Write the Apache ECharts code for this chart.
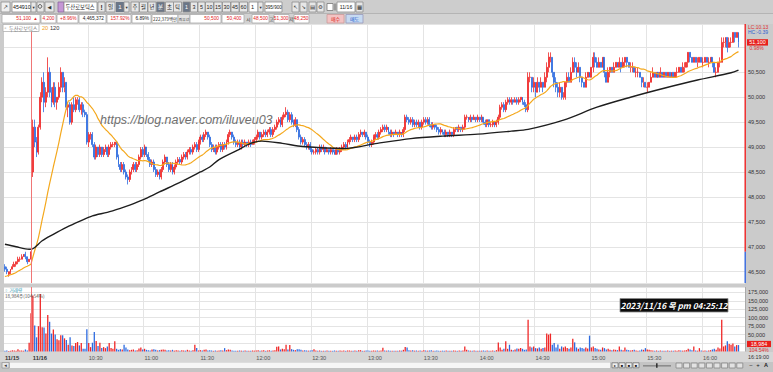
<!DOCTYPE html>
<html><head><meta charset="utf-8">
<script src="https://cdn.jsdelivr.net/npm/echarts@6/dist/echarts.min.js"></script>
<style>html,body{margin:0;padding:0;background:#c9c9c9;overflow:hidden}#c{width:773px;height:372px}</style>
</head><body><div id="c"></div>
<script>
// ---------------- data ----------------
const stockCode = '454910';
const stockName = '두산로보틱스';
const prevClose = 46900;
const lastPrice = 51100;
const lastVolume = 18984;
const day1 = '11/15', day1Start = '15:16';
const day2 = '11/16', day2Start = '10:00';
const futureSlots = 3;
// 11/15 closes before the visible window (used only for the 20-bar average)
const priorCloses = [46300,46250,46300,46350,46350,46300,46300,46350,46400,46350,46350,46400,46400,46450,46500,46500,46550,46550,46550];
// [open, close, low, high]
const candles1115 = [
[46600,46550,46500,46650],[46550,46500,46450,46600],[46450,46500,46400,46500],[46500,46550,46450,46550],[46550,46600,46550,46650],
[46600,46650,46600,46700],[46650,46700,46600,46700],[46700,46750,46650,46800],[46750,46750,46700,46800],[46750,46800,46750,46850],
[46800,46850,46800,46850],[46850,46800,46750,46900],[46800,46700,46650,46800],[46700,46750,46700,46750],[46750,46900,46750,46900]
];
const candles1116 = [
[48500,49400,48400,49550],[49400,49100,49000,49550],[49100,48900,48800,49200],[48900,49400,48850,49450],[49400,50000,49350,50100],[50000,50300,49900,50400],[50300,49900,49700,50500],[49900,50100,49800,50200],[50100,50500,50000,50800],[50500,50100,50000,50600],
[50100,49900,49800,50200],[49900,50200,49850,50300],[50200,49900,49800,50300],[49900,50000,49750,50000],[50000,50200,49950,50300],[50200,50500,50100,50600],[50500,50200,50100,50500],[50200,50300,50100,50400],[50300,49800,49750,50300],[49800,49850,49600,49900],
[49850,49500,49450,49900],[49500,49850,49450,49900],[49850,49750,49700,50000],[49750,49950,49700,50000],[49950,49950,49850,50000],[49950,49750,49700,50000],[49750,49850,49650,49900],[49850,49700,49600,49900],[49700,49650,49600,49750],[49650,49100,49050,49700],
[49100,49250,49000,49300],[49250,49250,49150,49300],[49250,49050,49000,49300],[49050,48800,48750,49100],[48800,49000,48750,49050],[49000,48850,48800,49000],[48850,49000,48800,49050],[49000,48850,48800,49000],[48850,48950,48800,49000],[48950,49000,48900,49050],
[49000,48850,48800,49000],[48850,49000,48800,49050],[49000,49050,48950,49100],[49050,49050,49000,49100],[49050,49100,49000,49100],[49100,48800,48750,49100],[48800,48650,48600,48850],[48650,48550,48500,48700],[48550,48650,48500,48700],[48650,48500,48450,48700],
[48500,48400,48350,48550],[48400,48350,48250,48450],[48350,48500,48300,48550],[48500,48550,48450,48600],[48550,48650,48500,48700],[48650,48550,48500,48700],[48550,48650,48500,48700],[48650,48800,48600,48850],[48800,48950,48750,49000],[48950,48850,48800,49000],
[48850,49000,48800,49050],[49000,48850,48800,49000],[48850,48750,48700,48900],[48750,48650,48600,48800],[48650,48700,48600,48750],[48700,48550,48500,48750],[48550,48450,48400,48600],[48450,48500,48400,48550],[48500,48400,48350,48550],[48400,48550,48350,48600],
[48550,48700,48500,48750],[48700,48800,48650,48850],[48800,48650,48600,48800],[48650,48550,48500,48700],[48550,48650,48500,48700],[48650,48500,48450,48700],[48500,48600,48450,48650],[48600,48700,48550,48750],[48700,48750,48650,48800],[48750,48700,48650,48800],
[48700,48800,48650,48850],[48800,48850,48750,48900],[48850,48800,48750,48900],[48800,48900,48750,48950],[48900,48950,48850,49000],[48950,48900,48850,49000],[48900,49000,48850,49050],[49000,49050,48950,49100],[49050,48950,48900,49100],[48950,49100,48900,49150],
[49100,49200,49050,49250],[49200,49150,49100,49250],[49150,49250,49100,49300],[49250,49300,49200,49350],[49300,49200,49150,49300],[49200,49050,49000,49250],[49050,48950,48900,49100],[48950,49000,48900,49050],[49000,48900,48850,49050],[48900,49000,48850,49050],
[49000,49050,48950,49100],[49050,48950,48900,49100],[48950,49050,48900,49100],[49050,49000,48950,49100],[49000,49100,48950,49150],[49100,49250,49050,49300],[49250,49300,49200,49350],[49300,49200,49150,49300],[49200,49100,49050,49250],[49100,49050,49000,49150],
[49050,49100,49000,49150],[49100,49000,48950,49150],[49000,49100,48950,49150],[49100,49050,49000,49150],[49050,49100,49000,49150],[49100,49050,49000,49100],[49050,49100,49000,49150],[49100,49050,49000,49150],[49050,49100,49050,49150],[49100,49150,49050,49200],
[49150,49200,49100,49250],[49200,49300,49150,49350],[49300,49200,49150,49300],[49200,49250,49150,49300],[49250,49300,49200,49350],[49300,49250,49200,49350],[49250,49300,49200,49350],[49300,49350,49250,49400],[49350,49250,49200,49400],[49250,49350,49200,49400],
[49350,49400,49300,49450],[49400,49500,49350,49550],[49500,49550,49450,49600],[49550,49450,49400,49600],[49450,49600,49400,49650],[49600,49650,49550,49700],[49650,49700,49600,49800],[49700,49550,49500,49750],[49550,49650,49500,49700],[49650,49500,49450,49700],
[49500,49450,49400,49550],[49450,49550,49400,49600],[49550,49350,49300,49550],[49350,49200,49150,49400],[49200,49100,49050,49250],[49100,49150,49050,49200],[49150,49050,49000,49200],[49050,49000,48950,49100],[49000,49050,48950,49100],[49050,48950,48900,49100],
[48950,48900,48850,49000],[48900,48900,48850,48950],[48900,48950,48850,49000],[48950,48900,48850,49000],[48900,49000,48850,49050],[49000,48950,48900,49050],[48950,49000,48900,49050],[49000,48900,48850,49000],[48900,48950,48900,49000],[48950,48900,48850,48950],
[48900,48950,48850,49000],[48950,48900,48850,48950],[48900,48850,48850,48950],[48850,48950,48850,49000],[48950,48900,48850,48950],[48900,48950,48850,49000],[48950,49000,48900,49050],[49000,49050,48950,49100],[49050,49000,48950,49100],[49000,49100,48950,49150],
[49100,49150,49050,49200],[49150,49200,49100,49250],[49200,49150,49100,49200],[49150,49200,49100,49250],[49200,49150,49100,49250],[49150,49250,49100,49300],[49250,49300,49200,49350],[49300,49250,49200,49300],[49250,49300,49200,49350],[49300,49200,49150,49300],
[49200,49100,49050,49250],[49100,49050,49000,49150],[49050,49100,49000,49150],[49100,49200,49050,49250],[49200,49250,49150,49300],[49250,49200,49150,49300],[49200,49300,49150,49350],[49300,49350,49250,49400],[49350,49400,49300,49450],[49400,49350,49300,49450],
[49350,49400,49300,49450],[49400,49300,49250,49400],[49300,49250,49200,49350],[49250,49300,49200,49350],[49300,49250,49200,49300],[49250,49300,49250,49350],[49300,49250,49200,49300],[49250,49300,49200,49350],[49300,49250,49200,49300],[49250,49350,49200,49400],
[49350,49600,49300,49650],[49600,49550,49500,49650],[49550,49500,49450,49600],[49500,49550,49450,49600],[49550,49450,49400,49600],[49450,49500,49400,49550],[49500,49450,49400,49550],[49450,49500,49400,49550],[49500,49400,49350,49500],[49400,49500,49350,49550],
[49500,49550,49450,49600],[49550,49500,49450,49600],[49500,49550,49450,49600],[49550,49450,49400,49600],[49450,49400,49350,49500],[49400,49450,49350,49500],[49450,49400,49350,49450],[49400,49350,49300,49450],[49350,49300,49250,49400],[49300,49350,49250,49400],
[49350,49300,49250,49350],[49300,49250,49200,49350],[49250,49300,49200,49350],[49300,49250,49200,49300],[49250,49300,49200,49350],[49300,49250,49200,49300],[49250,49350,49200,49400],[49350,49400,49300,49400],[49400,49350,49300,49400],[49350,49400,49300,49450],
[49400,49350,49300,49400],[49350,49400,49300,49450],[49400,49600,49350,49650],[49600,49600,49550,49650],[49600,49550,49500,49600],[49550,49600,49500,49650],[49600,49550,49500,49600],[49550,49600,49550,49650],[49600,49550,49500,49600],[49550,49600,49500,49650],
[49600,49550,49500,49600],[49550,49600,49500,49650],[49600,49500,49450,49600],[49500,49450,49400,49550],[49450,49550,49400,49550],[49550,49450,49400,49550],[49450,49450,49400,49500],[49450,49500,49400,49550],[49500,49450,49400,49500],[49450,49500,49400,49550],
[49500,49600,49450,49650],[49600,49800,49550,49850],[49800,49850,49750,49900],[49850,49750,49700,49900],[49750,49900,49700,49950],[49900,49950,49850,50000],[49950,49900,49850,50000],[49900,49950,49850,50000],[49950,49900,49850,49950],[49900,49950,49900,50000],
[49950,49900,49850,50000],[49900,49950,49850,50000],[49950,50000,49900,50000],[50000,49900,49850,50000],[49900,49850,49800,49950],[49850,49750,49700,49900],[49750,50400,49700,50500],[50400,50400,50300,50500],[50400,50200,50100,50400],[50200,50300,50100,50400],
[50300,50100,50000,50300],[50100,50300,50100,50400],[50300,50200,50100,50300],[50200,50300,50200,50400],[50300,50200,50100,50300],[50200,50400,50200,50500],[50400,50600,50300,50700],[50600,50800,50500,50900],[50800,50800,50700,50900],[50800,50500,50400,50800],
[50500,50300,50200,50500],[50300,50200,50100,50400],[50200,50100,50000,50300],[50100,50200,50000,50300],[50200,50000,49950,50200],[50000,50000,49950,50100],[50000,50300,49950,50300],[50300,50400,50200,50500],[50400,50300,50300,50500],[50300,50500,50300,50600],
[50500,50700,50500,50800],[50700,50600,50500,50800],[50600,50500,50400,50700],[50500,50600,50500,50700],[50600,50400,50300,50600],[50400,50300,50200,50400],[50300,50200,50200,50300],[50200,50400,50200,50500],[50400,50500,50400,50500],[50500,50400,50400,50500],
[50400,50600,50400,50600],[50600,50800,50500,50900],[50800,50700,50600,50900],[50700,50600,50600,50800],[50600,50700,50600,50800],[50700,50600,50600,50700],[50600,50800,50600,50800],[50800,50500,50400,50800],[50500,50300,50300,50500],[50300,50500,50300,50600],
[50500,50600,50400,50600],[50600,50500,50500,50600],[50500,50600,50500,50700],[50600,50700,50600,50700],[50700,50600,50600,50700],[50600,50700,50600,50800],[50700,50600,50500,50700],[50600,50700,50600,50800],[50700,50800,50600,50800],[50800,50700,50600,50800],
[50700,50600,50600,50700],[50600,50600,50500,50700],[50600,50600,50500,50700],[50600,50500,50500,50600],[50500,50500,50400,50600],[50500,50500,50400,50600],[50500,50400,50400,50500],[50400,50300,50200,50400],[50300,50300,50200,50400],[50300,50200,50200,50300],
[50200,50200,50100,50300],[50200,50300,50200,50300],[50300,50400,50300,50500],[50400,50500,50400,50600],[50500,50400,50400,50500],[50400,50500,50400,50500],[50500,50400,50400,50500],[50400,50500,50400,50600],[50500,50400,50400,50500],[50400,50500,50400,50500],
[50500,50400,50400,50500],[50400,50500,50400,50500],[50500,50400,50400,50500],[50400,50500,50400,50500],[50500,50400,50400,50500],[50400,50500,50400,50500],[50500,50500,50400,50600],[50500,50600,50500,50600],[50600,50500,50500,50600],[50500,50600,50500,50700],
[50600,50600,50500,50700],[50600,50700,50600,50700],[50700,50900,50600,50900],[50900,50800,50700,50900],[50800,50700,50700,50800],[50700,50800,50700,50800],[50800,50700,50700,50800],[50700,50700,50600,50800],[50700,50800,50700,50800],[50800,50700,50700,50800],
[50700,50700,50600,50800],[50700,50800,50700,50800],[50800,50700,50700,50800],[50700,50700,50600,50800],[50700,50800,50700,50800],[50800,50700,50600,50800],[50700,50500,50500,50700],[50500,50500,50400,50600],[50500,50700,50500,50700],[50700,50700,50600,50800],
[50700,51100,50700,51200],[51100,51100,51000,51200],[51100,51200,51000,51200],[51200,51000,50900,51200],[51000,51100,51000,51200],[51100,51100,51000,51200],[51100,51300,51100,51300],[51300,51200,51100,51300],[51200,51300,51200,51300],[51300,51100,51000,51300]
];
const volumes1115 = [2500,3000,1800,2200,3500,2600,1900,6500,2800,3100,2400,6000,2700,26000,113000];
const volumes1116 = [
166000,77000,42000,75000,170000,72000,71000,53000,108000,88000,
53000,65000,50000,36000,33000,48000,48000,39000,34000,20000,
42000,18000,16000,25000,28000,18000,25000,8000,8000,66000,
25000,13000,26000,58000,31000,16000,26000,10000,13000,10000,
15000,25000,10000,8000,30000,8000,5000,7000,6000,20000,
12000,6000,4000,5000,6000,3000,4000,9000,12000,6000,
8000,5000,4000,3000,6000,7000,5000,3000,4000,5000,
6000,5000,3000,4000,3000,5000,2500,4000,3000,2000,
4000,3000,2500,5000,3000,2000,4000,20000,10000,3000,
4000,3000,5000,6000,3000,4000,3000,2000,3000,2500,
3000,4000,3000,10000,4000,6000,5000,3000,2500,2000,
2000,3000,2500,2000,3000,2000,2500,2000,3000,2500,
3000,4000,2500,3000,3500,2000,3000,4000,2500,3000,
4000,14000,15000,6000,8000,7000,20000,6000,19000,7000,
5000,4000,7000,7000,5000,3000,4000,3000,2500,3000,
4000,7000,3000,2500,3000,2000,2500,2000,3000,2000,
2500,2000,3000,2500,2000,3000,2500,3000,2000,3000,
3000,2500,2000,3000,2000,3500,4000,2000,2500,3000,
3000,2500,2000,3000,2500,3000,2000,3000,11000,3000,
2500,3000,2000,2500,2000,2500,2000,3000,2500,5000,
13000,12000,4000,3000,4000,2500,3000,2000,3000,2500,
4000,3000,2500,3000,4000,2500,2000,3000,2500,2000,
2500,2000,3000,2000,2500,2000,3000,2500,2000,3000,
2500,3000,15000,5000,3000,2500,2000,3000,2000,2500,
2000,2500,3000,2500,3000,2000,2500,3000,2000,4000,
27000,12000,5000,8000,30000,8000,20000,5000,4000,6000,
9000,8000,10000,8000,5000,6000,94000,15000,12000,15000,
10000,9000,12000,8000,10000,12000,53000,50000,53000,20000,
25000,12000,21000,8000,15000,12000,15000,10000,8000,12000,
38000,27000,12000,8000,12000,10000,8000,12000,9000,47000,
12000,15000,10000,8000,6000,5000,12000,10000,6000,8000,
5000,4000,6000,5000,4000,15000,5000,4000,12000,5000,
4000,3000,4000,5000,3000,2500,3000,6000,5000,10000,
6000,5000,4000,3000,2500,3000,2000,3000,2500,2000,
2500,3000,2000,2500,2000,3000,2500,4000,3000,2500,
3000,4000,8000,6000,4000,15000,3000,2500,10000,3000,
2500,3000,2500,3000,4000,6000,8000,5000,12000,9000,
94000,15000,18000,30000,22000,20000,24000,15000,19000,18984
];
// 120-bar average at sample times
const ma120Times = ['11/15 15:16','11/15 15:22','11/15 15:29','11/16 10:00','11/16 10:05','11/16 10:11','11/16 10:18','11/16 10:25','11/16 10:32','11/16 10:40','11/16 10:47','11/16 10:52','11/16 10:59','11/16 11:08','11/16 11:19','11/16 11:30','11/16 11:35','11/16 11:40','11/16 11:50','11/16 11:57','11/16 12:03','11/16 12:14','11/16 12:25','11/16 12:47','11/16 13:05','11/16 13:23','11/16 13:40','11/16 13:59','11/16 14:17','11/16 14:26','11/16 14:45','11/16 15:03','11/16 15:21','11/16 15:39','11/16 15:57','11/16 16:15','11/16 16:19'];
const ma120Values = [47050,47000,46950,46960,47120,47250,47390,47510,47620,47690,47770,47835,47940,48100,48290,48500,48600,48750,48940,49075,49120,49075,49010,48970,49075,49170,49220,49260,49320,49355,49540,49800,50000,50180,50345,50490,50545];
// axis labels hidden behind the current-value boxes in the reference
const hiddenPriceLabels = [51000];
const hiddenVolumeLabels = [25000];

// ---------------- build ----------------
const UP = '#ef2727', DOWN = '#2d6be0';
const FONT = "'Liberation Sans','DejaVu Sans',sans-serif";
const CJK = "'Noto Sans CJK KR','Noto Sans',sans-serif";
function pad(n){return (n<10?'0':'')+n;}
function buildTimes(day, start, count){
  const p = start.split(':').map(Number); const out = [];
  for (let i=0;i<count;i++){ const t=p[0]*60+p[1]+i; out.push(day+' '+pad(Math.floor(t/60))+':'+pad(t%60)); }
  return out;
}
const cats = buildTimes(day1, day1Start, candles1115.length).concat(buildTimes(day2, day2Start, candles1116.length + futureSlots));
const candles = candles1115.concat(candles1116);
const volumes = volumes1115.concat(volumes1116);
const closes = candles.map(r => r[1]);
const allCloses = priorCloses.concat(closes);
const ma20 = closes.map((_, i) => { let s = 0; for (let k = i; k < i + 20; k++) s += allCloses[k]; return Math.round(s / 20); });
const dirs = candles.map((r, i) => r[1] > r[0] ? 1 : r[1] < r[0] ? -1 : (i > 0 && candles[i-1][1] > r[1] ? -1 : 1));
const ma120 = ma120Times.map((t, k) => [cats.indexOf(t), ma120Values[k]]);
const sepIndex = candles1115.length - 1;
function comma(v){return String(Math.round(v)).replace(/\B(?=(\d{3})+(?!\d))/g, ',');}
function isGridCat(i, v){ return v.indexOf(day2) === 0 && (v.slice(-2) === '00' || v.slice(-2) === '30') && v !== day2 + ' ' + day2Start; }
function isLabelCat(i, v){ return i === 0 || v === day2 + ' ' + day2Start || isGridCat(i, v); }

const chart = echarts.init(document.getElementById('c'), null, {renderer: 'svg'});
const split = {show: true, lineStyle: {color: '#e4e4e4', width: 1}};
chart.setOption({
  animation: false,
  backgroundColor: '#cbcbcb',
  grid: [
    {left: 4, right: 28, top: 24, height: 259, show: true, backgroundColor: '#ffffff', borderWidth: 0},
    {left: 4, right: 28, top: 287, height: 64.5, show: true, backgroundColor: '#ffffff', borderWidth: 0}
  ],
  xAxis: [
    {type: 'category', gridIndex: 0, data: cats, boundaryGap: true, axisLine: {show: false}, axisTick: {show: false}, axisLabel: {show: false},
     splitLine: Object.assign({interval: isGridCat}, split)},
    {type: 'category', gridIndex: 1, data: cats, boundaryGap: true, axisLine: {show: false}, axisTick: {show: false},
     splitLine: Object.assign({interval: isGridCat}, split),
     axisLabel: {show: true, interval: isLabelCat, align: 'left', margin: 3.5, fontSize: 5.6, color: '#555', fontFamily: FONT,
       formatter: function(v, i){ if (i === 0) return '{d|' + day1 + '}'; if (v === day2 + ' ' + day2Start) return '{d|' + day2 + '}'; return v.slice(6); },
       rich: {d: {fontSize: 5.8, fontWeight: 'bold', color: '#333', fontFamily: FONT}}}}
  ],
  yAxis: [
    {type: 'value', gridIndex: 0, position: 'right', min: 46273, max: 51469, splitNumber: 10, axisLine: {show: false}, axisTick: {show: false},
     splitLine: split, axisLabel: {fontSize: 5.6, color: '#333', margin: 3, fontFamily: FONT, showMinLabel: false, showMaxLabel: false,
       formatter: v => hiddenPriceLabels.indexOf(v) >= 0 ? '' : comma(v)}},
    {type: 'value', gridIndex: 1, position: 'right', min: 0, max: 191000, interval: 25000, axisLine: {show: false}, axisTick: {show: false},
     splitLine: split, axisLabel: {fontSize: 5.6, color: '#333', margin: 3, fontFamily: FONT, showMinLabel: false, showMaxLabel: false,
       formatter: v => hiddenVolumeLabels.indexOf(v) >= 0 ? '' : comma(v)}}
  ],
  series: [
    {type: 'candlestick', xAxisIndex: 0, yAxisIndex: 0, data: candles, barWidth: 1.4,
     itemStyle: {color: UP, color0: DOWN, borderColor: UP, borderColor0: DOWN, borderWidth: 0.8},
     markLine: {silent: true, symbol: ['none', 'none'], label: {show: false}, lineStyle: {color: '#f07676', width: 1, type: 'solid'}, data: [{xAxis: sepIndex}]}},
    {type: 'line', name: '20', xAxisIndex: 0, yAxisIndex: 0, data: ma20, showSymbol: false, symbol: 'none', lineStyle: {color: '#f4a81d', width: 1.2}, z: 3},
    {type: 'line', name: '120', xAxisIndex: 0, yAxisIndex: 0, data: ma120, smooth: 0.3, showSymbol: false, symbol: 'none', lineStyle: {color: '#1e1e1e', width: 1.4}, z: 3},
    {type: 'bar', xAxisIndex: 1, yAxisIndex: 1, barWidth: 1.3,
     data: volumes.map((v, i) => ({value: v, itemStyle: {color: dirs[i] > 0 ? UP : DOWN}})),
     markLine: {silent: true, symbol: ['none', 'none'], label: {show: false}, lineStyle: {color: '#f07676', width: 1, type: 'solid'}, data: [{xAxis: sepIndex}]}}
  ]
});

// ---------------- decorations ----------------
const G = [];
function R(x, y, w, h, fill, stroke, z){ G.push({type: 'rect', silent: true, z: z === undefined ? 100 : z, shape: {x: x, y: y, width: w, height: h}, style: {fill: fill, stroke: stroke || null, lineWidth: stroke ? 0.8 : 0}}); }
function T(x, y, text, color, size, o){ o = o || {}; const f = (o.style || 'normal') + ' ' + (o.weight || 'normal') + ' ' + size + 'px ' + (o.family || FONT);
  G.push({type: 'text', silent: true, z: o.z || 101, x: x, y: y, style: {text: text, fill: color, font: f, textAlign: o.align || 'left', align: o.align || 'left', textVerticalAlign: 'middle', verticalAlign: 'middle'}}); }
// toolbar row 1
R(0, 0, 773, 13, '#cdcdcd', null, 90); R(0, 13, 773, 1, '#b4b4b4', null, 90); R(0, 14, 773, 10, '#d2d2d2', null, 90);
const BTN = '#e7e7e7', BD = '#8e8e8e', SEL = '#6b7687';
R(1, 2, 9, 10, '#efefef', BD); T(5.5, 7, '↗', '#333', 6, {align: 'center'});
R(12, 2, 19, 10, '#ffffff', BD); T(13, 7.2, stockCode, '#111', 5.3);
R(31, 2, 5, 10, BTN, BD); T(33.6, 7, '▾', '#333', 4.5, {align: 'center'});
R(37, 2, 7, 10, BTN, BD); G.push({type: 'circle', z: 101, shape: {cx: 40, cy: 6.4, r: 1.8}, style: {fill: 'none', stroke: '#333', lineWidth: 0.8}});
R(45, 2, 9, 10, BTN, BD); T(49.5, 7, '◀', '#333', 5, {align: 'center'});
R(58, 2, 6, 10, '#c597d6', '#8a66a0'); 
R(64, 2, 33, 10, '#ffffff', BD); T(65.5, 7.3, stockName, '#222', 5.3, {family: CJK});
R(98, 2, 7, 10, BTN, BD); T(101.5, 7, '!', '#222', 6.5, {align: 'center', weight: 'bold'});
R(106, 2, 9, 10, BTN, BD); T(110.5, 7.2, '일', '#222', 5.6, {align: 'center', family: CJK});
R(116, 2, 8, 10, SEL); T(120, 7, '1', '#fff', 6, {align: 'center'});
R(124, 2, 5, 10, BTN, BD); T(126.5, 7, '▾', '#333', 4.5, {align: 'center'});
[['주', 131, 0], ['월', 139.5, 0], ['년', 148, 0], ['분', 156.5, 1], ['초', 165.5, 0], ['틱', 173.5, 0]].forEach(b => {
  R(b[1], 2, 8, 10, b[2] ? SEL : BTN, BD); T(b[1] + 4, 7.2, b[0], b[2] ? '#fff' : '#222', 5.4, {align: 'center', family: CJK}); });
[['1', 183, 7, 1], ['3', 190.5, 7, 0], ['5', 198, 7, 0], ['10', 205.5, 8, 0], ['15', 214, 8, 0], ['30', 222.5, 8, 0], ['45', 231, 8, 0], ['60', 239.5, 8, 0]].forEach(b => {
  R(b[1], 2, b[2], 10, b[3] ? SEL : BTN, BD); T(b[1] + b[2] / 2, 7, b[0], b[3] ? '#fff' : '#222', 5.4, {align: 'center'}); });
R(249, 2, 9, 10, '#ffffff', BD); T(251, 7, '1', '#222', 5.6);
R(258, 2, 5, 10, BTN, BD); T(260.5, 7, '▾', '#333', 4.5, {align: 'center'});
R(265, 2, 17, 10, '#ffffff', BD); T(273.5, 7, '395/900', '#222', 4.6, {align: 'center'});
[292, 300, 309, 317].forEach((x, k) => { R(x, 2, 7, 10, BTN, BD); T(x + 3.5, 7, ['↖', '↘', '▤', '⚙'][k], '#333', 5.5, {align: 'center'}); });
R(327, 3.5, 6, 7, '#ffffff', '#777'); R(334, 3.5, 2.5, 7, '#9a9a9a');
R(337, 2, 18, 10, '#ffffff', BD); T(346, 7, day2, '#222', 5.2, {align: 'center'});
R(356, 2, 7, 10, BTN, BD); T(359.5, 7, '▦', '#333', 5.5, {align: 'center'});
// toolbar row 2
const RED = '#e3201b', CB = '#a9a9a9', NF = 4.8;
R(2, 14.5, 38, 8.5, '#fff', CB); T(31, 18.8, comma(lastPrice), RED, NF, {align: 'right'}); T(35.5, 18.8, '▲', RED, 4.5, {align: 'center'});
R(41, 14.5, 15, 8.5, '#fff', CB); T(54.5, 18.8, comma(lastPrice - prevClose), RED, NF, {align: 'right'});
R(57, 14.5, 21, 8.5, '#fff', CB); T(76.5, 18.8, '+8.96%', RED, NF, {align: 'right'});
R(79, 14.5, 27, 8.5, '#fff', CB); T(104, 18.8, '4,465,372', '#222', NF, {align: 'right'});
R(107, 14.5, 24, 8.5, '#fff', CB); T(129.5, 18.8, '157.92%', RED, NF, {align: 'right'});
R(132, 14.5, 19, 8.5, '#fff', CB); T(149, 18.8, '6.89%', '#222', NF, {align: 'right'});
R(152, 14.5, 26, 8.5, '#fff', CB); T(177, 18.8, '222,379백만', '#222', 4.4, {align: 'right', family: CJK});
R(178, 14.5, 12, 8.5, '#e3e3e3', CB); T(184, 18.8, '최우선', '#333', 3.9, {align: 'center', family: CJK});
R(190, 14.5, 31, 8.5, '#fff', CB); T(219, 18.8, '50,500', RED, NF, {align: 'right'});
R(222, 14.5, 22, 8.5, '#fff', CB); T(241.5, 18.8, '50,400', RED, NF, {align: 'right'});
T(248.3, 18.8, '시', '#333', 4.6, {align: 'center', family: CJK});
R(252, 14.5, 17, 8.5, '#fff', CB); T(268, 18.8, '48,500', RED, NF, {align: 'right'});
T(271.3, 18.8, '고', '#333', 4.6, {align: 'center', family: CJK});
R(274, 14.5, 15, 8.5, '#fff', CB); T(288.5, 18.8, '51,300', RED, NF, {align: 'right'});
T(291.3, 18.8, '저', '#333', 4.6, {align: 'center', family: CJK});
R(294, 14.5, 15, 8.5, '#fff', CB); T(308.5, 18.8, '48,250', RED, NF, {align: 'right'});
R(327, 14.5, 17, 8.5, '#f3c3c3', '#c99'); T(335.5, 18.8, '매수', '#d22', 5, {align: 'center', family: CJK});
R(346, 14.5, 17, 8.5, '#c6daf2', '#99b'); T(354.5, 18.8, '매도', '#2255cc', 5, {align: 'center', family: CJK});
// panel legends
R(3, 24.5, 36, 7, '#ffffff', '#b0b0b0'); T(4.5, 28, '▫', '#888', 5); T(9, 28, stockName, '#777', 5.2, {family: CJK});
T(42, 28, '20', '#f0a01c', 5.6); T(50, 28, '120', '#333', 5.6);
T(4, 289.6, '▫ 거래량', '#3a9cb5', 4.6, {family: CJK});
T(5, 296.2, comma(lastVolume) + '주(104.54%)', '#555', 4.6, {family: CJK});
// watermark
T(100, 120, 'https://blog.naver.com/iluveu03', '#707070', 12.5, {style: 'italic', z: 50});
// time stamp
R(620, 298.5, 108, 13.5, '#0c0c0c', '#8a8a8a', 110); T(674, 305.4, '2023/11/16 목 pm 04:25:12', '#ffffff', 8.3, {align: 'center', weight: 'bold', style: 'italic', family: CJK, z: 111});
// right axis annotations
T(748, 26.5, 'LC:10.13', '#e03030', 5); T(748, 31.5, 'HC:-0.39', '#3060d0', 5);
const yPrev = chart.convertToPixel({yAxisIndex: 0}, prevClose);
const yLast = chart.convertToPixel({yAxisIndex: 0}, lastPrice);
const yVol = chart.convertToPixel({yAxisIndex: 1}, lastVolume);
R(744.5, 24, 1.4, yPrev - 24, '#ee2020'); R(744.5, yPrev, 1.4, 283 - yPrev, '#3366dd');
R(745, 287, 0.8, 64.5, '#9a9a9a');
R(747, yLast - 3.2, 21, 6.4, '#e8201c'); T(757.5, yLast, comma(lastPrice), '#fff', 5.4, {align: 'center'});
T(749.5, yLast + 5.7, '0.98%', '#e03030', 5);
R(747, yVol - 4.2, 24, 6.2, '#e8201c'); T(759, yVol - 1.1, comma(lastVolume), '#fff', 5.4, {align: 'center'});
T(749, yVol + 4.6, '104.54%', '#e03030', 5);
// bottom bar
R(0, 352, 773, 10, '#d6d6d6', null, -1);
T(748, 357.2, '16:19:00', '#333', 5.4);
R(0, 362, 773, 10, '#c4c4c4', null, 90); R(10, 362.5, 600, 5.5, '#f6f6f6', null, 91);
R(2, 362.5, 7, 5.5, '#e6e6e6', '#999'); T(5.5, 365.2, '◂', '#333', 5, {align: 'center'});
['▸', '■', '■', '■'].forEach((g, k) => { R(612 + k * 7, 362.8, 6, 5, '#eeeeee', '#777'); T(615 + k * 7, 365.3, g, '#222', 4, {align: 'center'}); });
R(643, 365.5, 28, 0.8, '#555'); R(656, 363.2, 1.6, 4.5, '#333');
for (let k = 0; k < 9; k++) { R(676 + k * 7.6, 363, 6, 5, '#e2e2e2', '#888'); }
T(751, 365.3, '−', '#222', 6, {align: 'center'}); T(758, 365.3, '+', '#222', 6, {align: 'center'}); T(766, 365.3, 'A', '#222', 5.5, {align: 'center', weight: 'bold'});
chart.setOption({graphic: {elements: G}});
</script></body></html>
